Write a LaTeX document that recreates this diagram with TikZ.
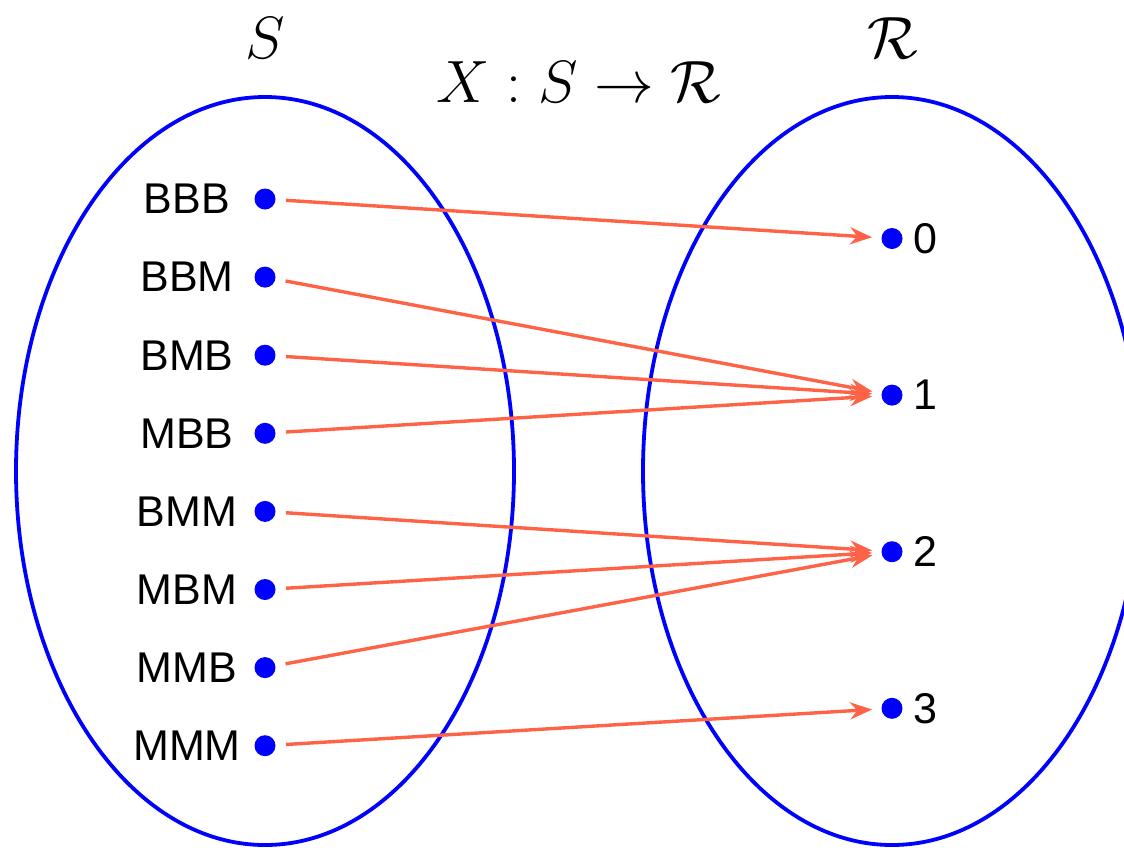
\documentclass[tikz,border=0pt]{standalone}
\usepackage{fontspec}
\setmainfont{Liberation Sans}
\usepackage{tikz}
\usetikzlibrary{positioning,arrows.meta}
\definecolor{setblue}{RGB}{0,0,255}
\definecolor{maparrow}{RGB}{255,99,71}

\begin{document}
\begin{tikzpicture}[x=0.5pt,y=-0.5pt,>={Stealth[length=11pt,width=8.5pt]},
  dot/.style={circle,fill=setblue,inner sep=0pt,minimum size=10.5pt},
  elem/.style={font=\fontsize{21.5}{24}\selectfont},
  big/.style={font=\fontsize{24.88}{30}\selectfont,scale=1.2},
  mapto/.style={->,maparrow,line width=1.7pt,shorten <=5pt,shorten >=4.5pt},
  setline/.style={setblue,line width=1.9pt}]
  \useasboundingbox (0,0) rectangle (1124,847);
  % the two sets
  \begin{scope}
    \clip (0,0) rectangle (1124,847);
    \draw[setline] (265,471) ellipse [x radius=249, y radius=374];
    \draw[setline] (892,471) ellipse [x radius=249, y radius=374];
  \end{scope}
  \node[big] (titleS) at (265,38) {$S$};
  \node[big] (titleR) at (893,38) {$\mathcal{R}$};
  \node[big] (titleX) at (579,82) {$X : S \to \mathcal{R}$};
  % outcomes
  \foreach \w [count=\i from 0] in {BBB,BBM,BMB,MBB,BMM,MBM,MMB,MMM} {
    \node[dot] (s\i) at (265,199+78.1*\i) {};
    \node[elem] (ls\i) at (187,199+78.1*\i) {\w};
  }
  % values
  \foreach \k in {0,...,3} {
    \node[dot] (r\k) at (892,238.5+156.6*\k) {};
    \node[elem] (lr\k) at (925,238.5+156.6*\k) {\k};
  }
  % the map
  \foreach \i/\k in {0/0,1/1,2/1,3/1,4/2,5/2,6/2,7/3}
    \draw[mapto] (s\i) -- (r\k);
\end{tikzpicture}
\end{document}
